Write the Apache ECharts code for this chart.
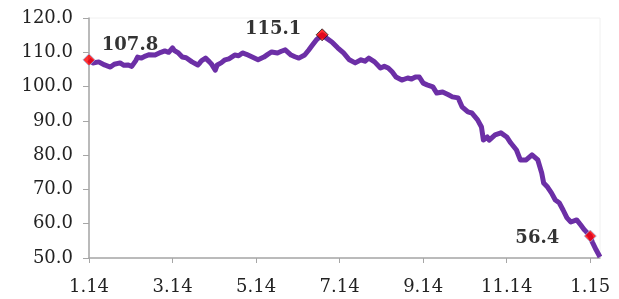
<!DOCTYPE html>
<html>
<head>
<meta charset="utf-8">
<style>
  html, body { margin: 0; padding: 0; background: #fff; }
  #chart { width: 619px; height: 299px; }
</style>
<script src="https://cdn.jsdelivr.net/npm/echarts@6.0.0/dist/echarts.min.js"></script>
</head>
<body>
<div id="chart"></div>
<script>
// trading day index since 1.14 and the price
var days = [0, 2, 3, 5, 6, 8, 9, 11, 13, 14, 16, 18, 20, 22, 23, 24, 25, 27, 29, 31, 32, 34, 35, 37, 39, 41,
  43, 44, 46, 48, 50, 51, 53, 56, 57, 58, 60, 62, 63, 65, 66, 68, 70, 72, 75, 77, 79, 81, 82, 84, 87, 88,
  90, 92, 94, 97, 99, 101, 104, 106, 108, 111, 113, 115, 117, 120, 122, 125, 128, 131, 134, 137, 140, 142,
  144, 147, 150, 152, 154, 156, 158, 161, 164, 166, 168, 170, 172, 174, 177, 179, 182, 185, 187, 190, 192,
  195, 197, 200, 202, 203, 205, 206, 209, 212, 215, 217, 220, 222, 225, 228, 231, 233, 234, 236, 238, 240,
  242, 244, 246, 248, 251, 253, 255, 258, 259, 261, 263]
var prices = [107.8, 106.9, 106.6, 107.2, 106.9, 106.3, 106.8, 105.7, 106.5, 106.8, 106.9, 106.2, 106.3, 105.9,
  105.4, 107.5, 108.6, 108.3, 108.9, 109.3, 109.8, 109.2, 109.5, 110.0, 110.4, 110.0, 111.3, 110.5, 109.8,
  108.6, 108.4, 108.9, 107.2, 106.3, 106.9, 107.6, 108.3, 107.2, 106.6, 104.8, 106.3, 106.9, 107.8, 108.1,
  109.2, 109.0, 109.8, 109.4, 109.0, 108.6, 107.8, 108.1, 108.6, 109.4, 110.1, 109.8, 110.3, 110.7, 109.2,
  108.7, 108.3, 109.2, 110.6, 112.1, 113.6, 115.1, 114.2, 113.0, 111.3, 109.8, 107.8, 106.9, 107.8, 107.4,
  108.3, 107.2, 105.4, 105.9, 105.4, 104.3, 102.8, 101.9, 102.5, 102.2, 102.8, 102.8, 101.0, 100.5, 99.9,
  98.1, 98.4, 97.6, 97.0, 96.7, 94.1, 92.6, 92.3, 90.3, 88.2, 84.4, 85.3, 84.4, 85.9, 86.5, 85.3, 83.6, 81.5,
  78.6, 78.6, 80.1, 78.6, 74.8, 71.9, 70.7, 69.0, 66.9, 66.1, 64.0, 61.7, 60.5, 61.1, 59.7, 58.2, 56.4, 54.7,
  52.4, 50.3]

// x axis ticks
var tickDays = [0, 43, 86, 129, 172, 215, 258]
var tickLabels = ['1.14', '3.14', '5.14', '7.14', '9.14', '11.14', '1.15']

// highlighted points: start, high, latest
var markDays = [0, 120, 258]
var markValues = [107.8, 115.1, 56.4]

var serif = 'DejaVu Serif'
var labelOffsets = [[41, -15], [-49, -5], [-53, 2]]
var markBorders = ['#9dbbe6', '#222', '#9dbbe6']

var lineData = days.map(function (d, i) { return [d, prices[i]] })
var markData = markDays.map(function (d, i) {
  return {
    value: [d, markValues[i]],
    itemStyle: { borderColor: markBorders[i] },
    label: { offset: labelOffsets[i] }
  }
})

var chart = echarts.init(document.getElementById('chart'))
chart.setOption({
  animation: false,
  grid: {
    left: 89,
    right: 19,
    top: 18,
    bottom: 41,
    show: true,
    borderColor: '#f0f0f0',
    borderWidth: 1
  },
  xAxis: {
    type: 'value',
    min: 0,
    max: 263,
    splitLine: { show: false },
    axisLine: {
      lineStyle: { color: '#a6a6a6', width: 1.5 }
    },
    axisTick: {
      customValues: tickDays,
      length: 5,
      lineStyle: { color: '#a6a6a6' }
    },
    axisLabel: {
      customValues: tickDays,
      margin: 20,
      color: '#222',
      fontFamily: serif,
      fontSize: 18,
      formatter: function (v) {
        var k = tickDays.indexOf(v)
        return k >= 0 ? tickLabels[k] : ''
      }
    }
  },
  yAxis: {
    type: 'value',
    min: 50,
    max: 120,
    interval: 10,
    splitLine: { show: false },
    axisLine: {
      show: true,
      lineStyle: { color: '#a6a6a6', width: 1.5 }
    },
    axisTick: {
      show: true,
      length: 6,
      lineStyle: { color: '#a6a6a6' }
    },
    axisLabel: {
      margin: 16,
      color: '#222',
      fontFamily: serif,
      fontSize: 18,
      formatter: function (v) { return v.toFixed(1) }
    }
  },
  series: [{
    type: 'line',
    data: lineData,
    showSymbol: false,
    lineStyle: {
      width: 5,
      color: '#6c2fa6',
      join: 'round'
    },
    z: 2
  }, {
    type: 'scatter',
    data: markData,
    symbol: 'diamond',
    symbolSize: 12,
    itemStyle: {
      color: '#ff0000',
      borderWidth: 1
    },
    label: {
      show: true,
      position: 'inside',
      color: '#000',
      fontFamily: serif,
      fontWeight: 'bold',
      fontSize: 18,
      formatter: function (p) { return p.value[1].toFixed(1) }
    },
    z: 3
  }]
})
</script>
</body>
</html>
